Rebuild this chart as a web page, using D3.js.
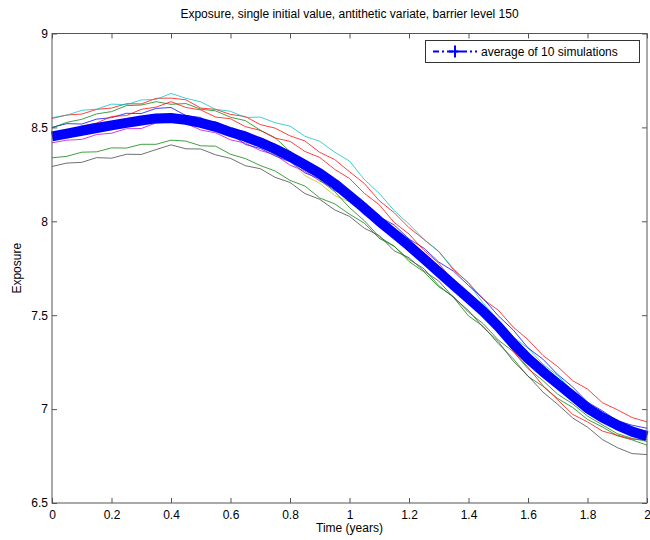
<!DOCTYPE html>
<html><head><meta charset="utf-8">
<script src="https://cdn.jsdelivr.net/npm/d3@7"></script>
<style>body{margin:0;background:#fff} text{font-family:"Liberation Sans",Arial,sans-serif;}</style>
</head><body><svg id="c" width="650" height="540"></svg>
<script>
// ---- data ----
const times = [0,0.05,0.1,0.15,0.2,0.25,0.3,0.35,0.4,0.45,0.5,0.55,0.6,0.65,0.7,0.75,0.8,0.85,0.9,0.95,1.0,1.05,1.1,1.15,1.2,1.25,1.3,1.35,1.4,1.45,1.5,1.55,1.6,1.65,1.7,1.75,1.8,1.85,1.9,1.95,2.0];
const average = [8.452,8.467,8.482,8.497,8.511,8.524,8.537,8.548,8.550,8.540,8.524,8.503,8.475,8.450,8.420,8.385,8.345,8.300,8.255,8.200,8.135,8.070,8.000,7.935,7.870,7.800,7.730,7.660,7.590,7.520,7.440,7.350,7.270,7.200,7.135,7.070,7.005,6.955,6.915,6.880,6.855];
const simBlue1 = [8.500,8.520,8.518,8.544,8.552,8.575,8.574,8.601,8.606,8.563,8.553,8.495,8.466,8.409,8.388,8.348,8.317,8.258,8.226,8.164,8.127,8.047,7.999,7.919,7.877,7.802,7.752,7.662,7.605,7.523,7.458,7.357,7.292,7.208,7.155,7.073,7.024,6.966,6.940,6.899,6.883];
const simGreen1 = [8.338,8.346,8.368,8.370,8.391,8.390,8.410,8.410,8.432,8.427,8.402,8.400,8.357,8.334,8.297,8.268,8.218,8.188,8.124,8.093,8.038,7.990,7.909,7.867,7.797,7.748,7.658,7.594,7.496,7.440,7.349,7.269,7.174,7.122,7.056,7.009,6.945,6.905,6.858,6.836,6.808];
const simRed1 = [8.548,8.566,8.571,8.596,8.603,8.626,8.625,8.655,8.656,8.647,8.603,8.596,8.569,8.558,8.515,8.496,8.455,8.428,8.367,8.329,8.264,8.201,8.110,8.046,7.966,7.904,7.840,7.741,7.673,7.583,7.527,7.437,7.370,7.286,7.226,7.151,7.107,7.034,6.997,6.955,6.932];
const simCyan = [8.552,8.565,8.591,8.597,8.624,8.621,8.646,8.649,8.681,8.655,8.636,8.596,8.586,8.553,8.555,8.525,8.507,8.453,8.426,8.368,8.321,8.222,8.149,8.057,7.985,7.904,7.838,7.748,7.671,7.562,7.477,7.384,7.325,7.240,7.179,7.094,7.038,6.975,6.936,6.890,6.868];
const simMagenta = [8.418,8.432,8.436,8.462,8.469,8.493,8.494,8.524,8.526,8.521,8.486,8.471,8.434,8.416,8.377,8.354,8.299,8.267,8.215,8.175,8.112,8.062,7.984,7.934,7.856,7.801,7.718,7.655,7.571,7.513,7.422,7.349,7.259,7.195,7.121,7.067,6.995,6.954,6.908,6.885,6.862];
const simYellow = [8.440,8.448,8.474,8.476,8.505,8.509,8.529,8.532,8.545,8.521,8.516,8.484,8.467,8.426,8.404,8.354,8.323,8.244,8.202,8.138,8.104,8.033,7.987,7.915,7.865,7.786,7.726,7.640,7.588,7.503,7.435,7.335,7.266,7.184,7.128,7.053,6.995,6.936,6.906,6.869,6.848];
const simBlack = [8.292,8.310,8.314,8.339,8.336,8.357,8.356,8.382,8.407,8.386,8.385,8.354,8.335,8.296,8.280,8.234,8.207,8.148,8.117,8.061,8.026,7.963,7.924,7.843,7.806,7.736,7.682,7.593,7.525,7.434,7.360,7.256,7.177,7.091,7.025,6.953,6.904,6.838,6.795,6.763,6.758];
const simBlue2 = [8.462,8.483,8.488,8.512,8.516,8.540,8.544,8.567,8.563,8.565,8.535,8.530,8.493,8.478,8.438,8.411,8.356,8.323,8.260,8.216,8.153,8.099,8.024,7.981,7.906,7.857,7.783,7.734,7.658,7.588,7.497,7.422,7.326,7.266,7.184,7.118,7.037,6.991,6.938,6.914,6.898];
const simGreen2 = [8.498,8.527,8.543,8.572,8.584,8.616,8.619,8.637,8.623,8.627,8.597,8.588,8.554,8.536,8.485,8.445,8.372,8.309,8.219,8.158,8.073,8.003,7.917,7.868,7.786,7.731,7.651,7.599,7.516,7.454,7.368,7.307,7.215,7.152,7.079,7.028,6.963,6.916,6.869,6.844,6.828];
const simRed2 = [8.452,8.474,8.508,8.523,8.558,8.563,8.596,8.608,8.637,8.606,8.593,8.555,8.546,8.504,8.484,8.443,8.426,8.372,8.340,8.277,8.228,8.149,8.088,7.994,7.932,7.846,7.777,7.677,7.605,7.504,7.418,7.310,7.223,7.125,7.049,6.972,6.932,6.883,6.861,6.840,6.838];
const simulations = [simBlue1, simGreen1, simRed1, simCyan, simMagenta, simYellow, simBlack, simBlue2, simGreen2, simRed2];
const simColors = ["#0000ff","#008000","#ff0000","#00bfbf","#bf00bf","#bfbf00","#404040","#0000ff","#008000","#ff0000"];
const xTicks = [0,0.2,0.4,0.6,0.8,1,1.2,1.4,1.6,1.8,2];
const xTickLabels = ["0","0.2","0.4","0.6","0.8","1","1.2","1.4","1.6","1.8","2"];
const yTicks = [6.5,7,7.5,8,8.5,9];
const yTickLabels = ["6.5","7","7.5","8","8.5","9"];
const titleText = "Exposure, single initial value, antithetic variate, barrier level 150";
const xLabel = "Time (years)";
const yLabel = "Exposure";
const legendLabel = "average of 10 simulations";

// ---- drawing ----
const svg = d3.select("#c");
const L = 52, R = 647, T = 33.5, B = 503;
const x = d3.scaleLinear().domain([0, 2]).range([L, R]);
const y = d3.scaleLinear().domain([6.5, 9]).range([B, T]);

svg.append("rect").attr("width", 650).attr("height", 540).attr("fill", "#fff");
svg.append("defs").append("clipPath").attr("id", "clip")
  .append("rect").attr("x", L - 6).attr("y", T).attr("width", R - L + 8).attr("height", B - T);

const line = d3.line().x((d, i) => x(times[i])).y(d => y(d));
const g = svg.append("g").attr("clip-path", "url(#clip)");
simulations.forEach((s, k) => {
  g.append("path").attr("d", line(s)).attr("fill", "none")
    .attr("stroke", simColors[k]).attr("stroke-width", 1).attr("stroke-opacity", 0.75);
});
g.append("path").attr("d", line(average)).attr("fill", "none")
  .attr("stroke", "#0000ff").attr("stroke-width", 10).attr("stroke-linejoin", "round").attr("stroke-linecap", "butt");

// axes
const fmtX = (d) => xTickLabels[xTicks.indexOf(d)];
const fmtY = (d) => yTickLabels[yTicks.indexOf(d)];
function style(sel) {
  sel.select(".domain").remove();
  sel.selectAll(".tick line").attr("stroke", "#555");
  sel.selectAll("text").attr("fill", "#000").attr("font-size", 12).attr("font-family", "Liberation Sans, Arial, sans-serif");
}
svg.append("g").attr("transform", `translate(0,${B})`)
  .call(d3.axisBottom(x).tickValues(xTicks).tickFormat(fmtX).tickSizeInner(-5).tickSizeOuter(0).tickPadding(7)).call(style);
svg.append("g").attr("transform", `translate(0,${T})`)
  .call(d3.axisTop(x).tickValues(xTicks).tickFormat("").tickSizeInner(-5).tickSizeOuter(0)).call(style);
svg.append("g").attr("transform", `translate(${L},0)`)
  .call(d3.axisLeft(y).tickValues(yTicks).tickFormat(fmtY).tickSizeInner(-5).tickSizeOuter(0).tickPadding(4)).call(style);
svg.append("g").attr("transform", `translate(${R},0)`)
  .call(d3.axisRight(y).tickValues(yTicks).tickFormat("").tickSizeInner(-5).tickSizeOuter(0)).call(style);
svg.append("rect").attr("x", L).attr("y", T).attr("width", R - L).attr("height", B - T)
  .attr("fill", "none").attr("stroke", "#555").attr("stroke-width", 1);

// labels
svg.append("text").attr("x", (L + R) / 2).attr("y", 18).attr("text-anchor", "middle")
  .attr("font-size", 12).text(titleText);
svg.append("text").attr("x", (L + R) / 2).attr("y", 532).attr("text-anchor", "middle")
  .attr("font-size", 12).text(xLabel);
svg.append("text").attr("transform", `translate(21,${(T + B) / 2}) rotate(-90)`).attr("text-anchor", "middle")
  .attr("font-size", 12).text(yLabel);

// legend
const lg = svg.append("g");
lg.append("rect").attr("x", 425.5).attr("y", 40.5).attr("width", 214).attr("height", 22)
  .attr("fill", "#fff").attr("stroke", "#333").attr("stroke-width", 1);
lg.append("line").attr("x1", 433).attr("x2", 477).attr("y1", 51.5).attr("y2", 51.5)
  .attr("stroke", "#0000ff").attr("stroke-width", 2).attr("stroke-dasharray", "6,3,2,3");
lg.append("path").attr("d", "M449,51.5H461M455,45.5V57.5").attr("stroke", "#0000ff").attr("stroke-width", 2);
lg.append("text").attr("x", 481).attr("y", 56).attr("font-size", 12).text(legendLabel);
</script></body></html>
